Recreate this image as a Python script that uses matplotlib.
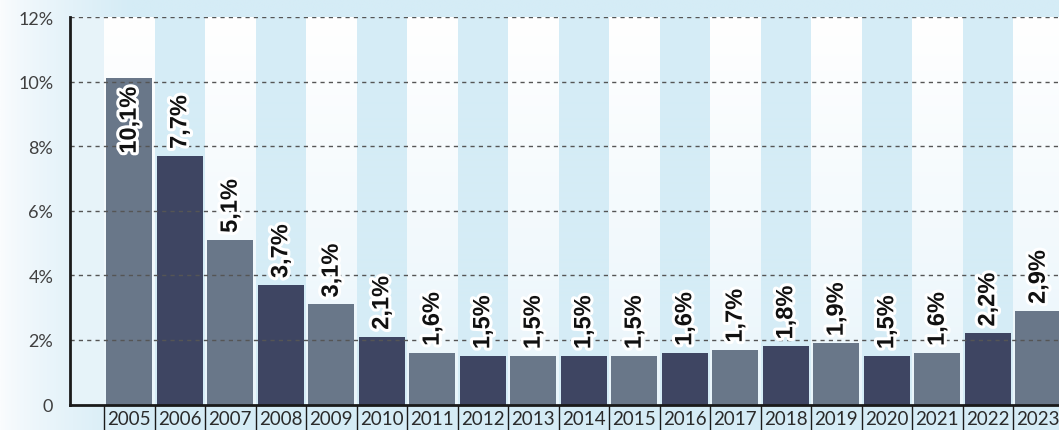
import numpy as np
import matplotlib
matplotlib.use("Agg")
import matplotlib.pyplot as plt
import matplotlib.patheffects as pe
from matplotlib.colors import to_rgb

# ---- data ----
years = ["2005", "2006", "2007", "2008", "2009", "2010", "2011", "2012", "2013",
         "2014", "2015", "2016", "2017", "2018", "2019", "2020", "2021", "2022", "2023"]
values = [10.1, 7.7, 5.1, 3.7, 3.1, 2.1, 1.6, 1.5, 1.5, 1.5, 1.5, 1.6, 1.7, 1.8,
          1.9, 1.5, 1.6, 2.2, 2.9]
value_labels = ["10,1%", "7,7%", "5,1%", "3,7%", "3,1%", "2,1%", "1,6%", "1,5%", "1,5%",
                "1,5%", "1,5%", "1,6%", "1,7%", "1,8%", "1,9%", "1,5%", "1,6%", "2,2%", "2,9%"]
y_ticks = [0, 2, 4, 6, 8, 10, 12]
y_tick_labels = ["0", "2%", "4%", "6%", "8%", "10%", "12%"]

W, H = 1059, 431
fig = plt.figure(figsize=(W / 100, H / 100), dpi=100)

BLUE = np.array(to_rgb("#d5ecf6"))
WHITE = np.array([1.0, 1.0, 1.0])

# figure background: horizontal gradient white -> light blue
bg = fig.add_axes([0, 0, 1, 1], zorder=-10)
bg.set_axis_off()
xs = np.linspace(0, 1, 400)
t = np.clip(xs * W / 130.0, 0, 1) ** 0.8
row = (1 - t)[:, None] * np.array(to_rgb("#fafcfe")) + t[:, None] * BLUE
img = np.tile(row[None, :, :], (20, 1, 1))
bg.imshow(img, extent=(0, 1, 0, 1), aspect="auto", interpolation="bilinear")
bg.set_xlim(0, 1)
bg.set_ylim(0, 1)

left = 70 / W
right = 1063.5 / W
bottom = (H - 405.5) / H
top = (H - 18) / H
ax = fig.add_axes([left, bottom, right - left, top - bottom])
ax.patch.set_alpha(0)

n = len(years)
x = np.arange(n)
xmin = -0.5 - 34 / 50.5
xmax = n - 0.5
ax.set_xlim(xmin, xmax)
ax.set_ylim(0, 12)

# background bands (alternating white-gradient and blue columns)
res = 40
cols = int(round((xmax - xmin) * res))
rows = 200
xc = xmin + (np.arange(cols) + 0.5) / res
yv = np.linspace(1, 0, rows)  # top -> bottom
band = np.zeros((rows, cols, 3))
for j, xv in enumerate(xc):
    idx = int(np.floor(xv + 0.5))
    if idx < 0:
        c_top = np.array(to_rgb("#e8f4fa"))
        c_bot = np.array(to_rgb("#e6f3f9"))
    elif idx % 2 == 0:
        c_top = WHITE
        c_bot = np.array(to_rgb("#e9f5fb"))
    else:
        c_top = BLUE
        c_bot = BLUE
    band[:, j, :] = yv[:, None] * c_top + (1 - yv[:, None]) * c_bot
ax.imshow(band, extent=(xmin, xmax, 0, 12), aspect="auto", interpolation="nearest", zorder=0)

# bars
colors = ["#697789" if i % 2 == 0 else "#3e4562" for i in range(n)]
ax.bar(x, values, width=0.91, color=colors, zorder=2)

# grid lines on top of bars
for yt in y_ticks[1:]:
    ax.axhline(yt, color="#555555", lw=1.0, ls=(0, (3, 3)), zorder=3)

# value labels
stroke = [pe.withStroke(linewidth=4.5, foreground="white")]
for xi, v, lab in zip(x, values, value_labels):
    if v > 9:
        ax.annotate(lab, (xi, v), xytext=(0, -6), textcoords="offset points",
                    rotation=90, ha="center", va="top", fontsize=17,
                    fontweight="bold", family="Liberation Sans", color="#111111",
                    path_effects=stroke, zorder=5)
    else:
        ax.annotate(lab, (xi, v), xytext=(0, 5), textcoords="offset points",
                    rotation=90, ha="center", va="bottom", fontsize=17,
                    fontweight="bold", family="Liberation Sans", color="#111111",
                    path_effects=stroke, zorder=5)

# axes styling
for s in ["top", "right"]:
    ax.spines[s].set_visible(False)
ax.spines["left"].set_linewidth(2)
ax.spines["bottom"].set_linewidth(2)
ax.spines["left"].set_color("#1a1a1a")
ax.spines["bottom"].set_color("#1a1a1a")
ax.spines["left"].set_zorder(6)
ax.spines["bottom"].set_zorder(6)

ax.set_yticks(y_ticks)
ax.set_yticklabels(y_tick_labels, family="Lato", fontweight="normal",
                   fontsize=13, color="#404040")
ax.tick_params(axis="y", length=0, pad=12)

ax.set_xticks(x)
ax.set_xticklabels(years, family="Lato", fontweight="normal", fontsize=13.5, color="#2a2a2a")
ax.tick_params(axis="x", which="major", length=0, pad=4)
ax.set_xticks(np.arange(-0.5, n, 1.0), minor=True)
ax.tick_params(axis="x", which="minor", length=20, width=1, color="#1a1a1a", direction="out")

fig.savefig("out.png", dpi=100)
